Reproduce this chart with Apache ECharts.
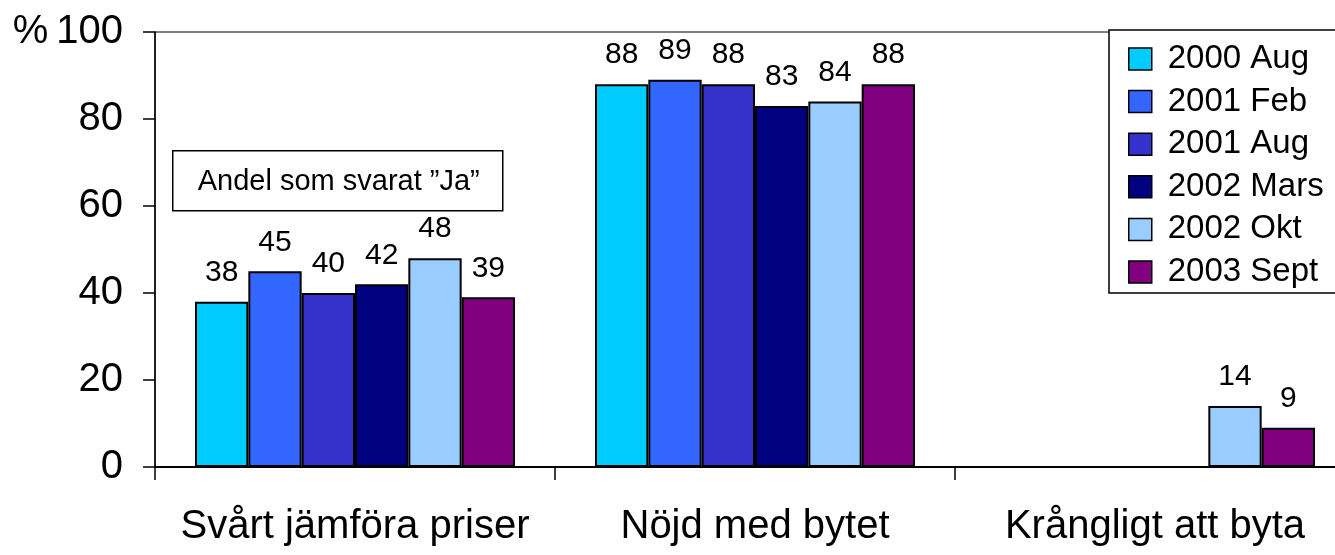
<!DOCTYPE html>
<html>
<head>
<meta charset="utf-8">
<script src="https://cdn.jsdelivr.net/npm/echarts@6/dist/echarts.min.js"></script>
<style>html,body{margin:0;padding:0;background:#fff;overflow:hidden;width:1335px;height:555px;}#c{width:1355px;height:555px;}</style>
</head>
<body>
<div id="c"></div>
<script>
const categories = ['Svårt jämföra priser', 'Nöjd med bytet', 'Krångligt att byta'];
const seriesNames = ['2000 Aug', '2001 Feb', '2001 Aug', '2002 Mars', '2002 Okt', '2003 Sept'];
const v2000Aug = [38, 88, null];
const v2001Feb = [45, 89, null];
const v2001Aug = [40, 88, null];
const v2002Mars = [42, 83, null];
const v2002Okt = [48, 84, 14];
const v2003Sept = [39, 88, 9];
const yTicks = [0, 20, 40, 60, 80, 100];
const annotationText = 'Andel som svarat ”Ja”';

const values = [v2000Aug, v2001Feb, v2001Aug, v2002Mars, v2002Okt, v2003Sept];
const colors = ['#00CCFF', '#3366FF', '#3333CC', '#000080', '#99CCFF', '#800080'];
const FONT = '"Liberation Sans", Arial, sans-serif';

const chart = echarts.init(document.getElementById('c'), null, {renderer: 'canvas'});
chart.setOption({
  animation: false,
  backgroundColor: '#fff',
  textStyle: {fontFamily: FONT, color: '#000'},
  grid: {left: 155, top: 32, right: 0, height: 435, show: true, borderColor: '#000', borderWidth: 1, backgroundColor: 'transparent'},
  legend: {
    orient: 'vertical', left: 1109, top: 30,
    backgroundColor: '#fff', borderColor: '#000', borderWidth: 1.5, borderRadius: 0,
    padding: [12, 60, 4, 19],
    itemWidth: 23, itemHeight: 22, itemGap: 8.6,
    icon: 'rect',
    itemStyle: {borderColor: '#000', borderWidth: 1.5},
    textStyle: {fontFamily: FONT, fontSize: 33, color: '#000', lineHeight: 34, padding: [0, 0, 0, 11]},
    data: seriesNames
  },
  xAxis: {
    type: 'category', data: categories,
    axisLine: {lineStyle: {color: '#000', width: 2}},
    axisTick: {show: true, length: 13, lineStyle: {color: '#000', width: 1.5}},
    axisLabel: {fontFamily: FONT, fontSize: 40, color: '#000', margin: 40, interval: 0},
    splitLine: {show: false}
  },
  yAxis: {
    type: 'value', min: 0, max: 100, interval: 20,
    axisLine: {show: true, lineStyle: {color: '#000', width: 1.5}},
    axisTick: {show: true, length: 12, lineStyle: {color: '#000', width: 1.5}},
    splitLine: {show: false},
    axisLabel: {
      fontFamily: FONT, fontSize: 40, color: '#000', margin: 32,
      formatter: function (v) { return v === yTicks[yTicks.length - 1] ? '%\u2009' + v : String(v); }
    }
  },
  series: seriesNames.map(function (name, i) {
    return {
      name: name, type: 'bar', data: values[i],
      barGap: '0%', barCategoryGap: '20%',
      itemStyle: {color: colors[i], borderColor: '#000', borderWidth: 2},
      label: {show: true, position: 'top', distance: 14, fontFamily: FONT, fontSize: 30, color: '#000'}
    };
  }),
  graphic: [{
    type: 'group', left: 172, top: 150,
    children: [
      {type: 'rect', shape: {x: 0, y: 0, width: 330, height: 60}, style: {fill: '#fff', stroke: '#000', lineWidth: 1.5}},
      {type: 'text', x: 166, y: 31, style: {text: annotationText, fontFamily: FONT, fontSize: 29, fill: '#000', align: 'center', verticalAlign: 'middle'}}
    ]
  }]
});
</script>
</body>
</html>
